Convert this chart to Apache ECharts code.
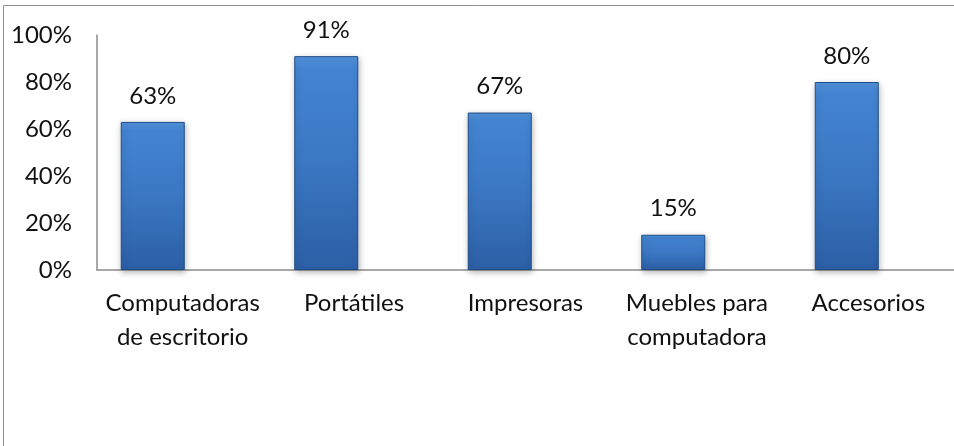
<!DOCTYPE html>
<html>
<head>
<meta charset="utf-8">
<script src="https://cdn.jsdelivr.net/npm/echarts@6/dist/echarts.min.js"></script>
<style>
  html, body { margin: 0; padding: 0; background: #ffffff; }
  #chart { width: 954px; height: 446px; }
</style>
</head>
<body>
<div id="chart"></div>
<script>
// Product categories and the share reported for each
const categories = [
  'Computadoras\nde escritorio',
  'Portátiles',
  'Impresoras',
  'Muebles para\ncomputadora',
  'Accesorios'
];
const shares = [63, 91, 67, 15, 80];
const yTicks = [0, 20, 40, 60, 80, 100];

const FONT = 'Lato, "Open Sans", sans-serif';
const TEXT = '#111111';
const AXIS = '#8c8c8c';

const barFill = new echarts.graphic.LinearGradient(0, 0, 0, 1, [
  { offset: 0, color: '#5393dc' },
  { offset: 0.06, color: '#4384d1' },
  { offset: 0.5, color: '#3b77c3' },
  { offset: 1, color: '#2c5fa6' }
]);

const chart = echarts.init(document.getElementById('chart'), null, { renderer: 'canvas' });

chart.setOption({
  backgroundColor: '#ffffff',
  animation: false,
  graphic: [{
    type: 'rect',
    silent: true,
    shape: { x: 3.5, y: 5.5, width: 1000, height: 500 },
    style: { fill: 'none', stroke: AXIS, lineWidth: 1 }
  }],
  grid: [
    // bars
    { left: 66, top: 35, width: 867.5, bottom: 176 },
    // axes and category labels
    { left: 97, top: 35, width: 867.5, bottom: 176 }
  ],
  xAxis: [
    {
      gridIndex: 0,
      type: 'category',
      data: categories,
      show: false
    },
    {
      gridIndex: 1,
      type: 'category',
      data: categories,
      axisLine: { show: true, lineStyle: { color: AXIS, width: 1.5 } },
      axisTick: { show: false },
      axisLabel: {
        margin: 16,
        fontFamily: FONT,
        fontSize: 24,
        lineHeight: 34,
        color: TEXT,
        interval: 0
      }
    }
  ],
  yAxis: [
    {
      gridIndex: 0,
      type: 'value',
      min: 0,
      max: 100,
      interval: 20,
      show: false
    },
    {
      gridIndex: 1,
      type: 'value',
      min: 0,
      max: 100,
      interval: 20,
      axisLine: { show: true, lineStyle: { color: AXIS, width: 1.5 } },
      axisTick: { show: false },
      splitLine: { show: false },
      axisLabel: {
        margin: 25,
        fontFamily: FONT,
        fontSize: 24,
        color: TEXT,
        customValues: yTicks,
        formatter: v => v + '%'
      }
    }
  ],
  series: [{
    type: 'bar',
    xAxisIndex: 0,
    yAxisIndex: 0,
    data: shares,
    barWidth: 64,
    itemStyle: {
      color: barFill,
      borderColor: '#1f4d88',
      borderWidth: 1,
      shadowColor: 'rgba(0,0,0,0.28)',
      shadowBlur: 6,
      shadowOffsetX: 1,
      shadowOffsetY: 2
    },
    label: {
      show: true,
      position: 'top',
      distance: 14,
      fontFamily: FONT,
      fontSize: 24,
      color: TEXT,
      formatter: p => p.value + '%'
    }
  }]
});
</script>
</body>
</html>
